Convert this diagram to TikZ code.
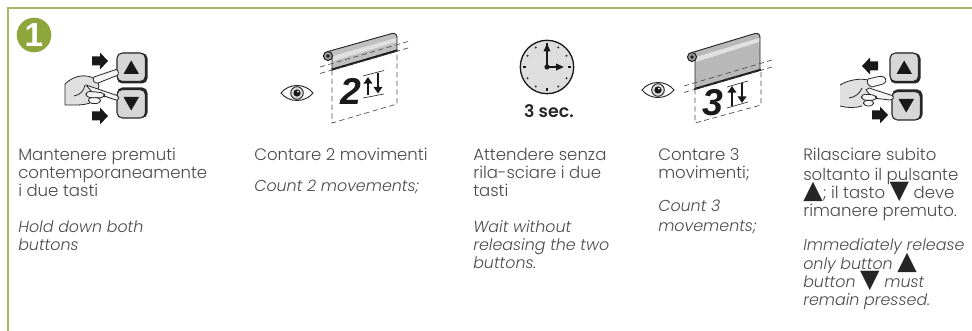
\documentclass[tikz,border=0pt]{standalone}
\usepackage{fontspec}
\setmainfont{Poppins Light}[ItalicFont={Poppins Light Italic},BoldFont={Poppins SemiBold}]
\newfontfamily\symfont{DejaVu Sans}
\newfontfamily\digitfont{Liberation Sans}
\usetikzlibrary{arrows.meta}
\definecolor{framegreen}{HTML}{A9B868}
\definecolor{badgegreen}{HTML}{8FA63C}
\definecolor{inkgrey}{HTML}{4A4A4A}
\newcommand{\uptri}{\smash{\fontsize{19}{13.5}\selectfont\symfont\textcolor{black!85}{▲}}}
\newcommand{\downtri}{\smash{\fontsize{19}{13.5}\selectfont\symfont\textcolor{black!85}{▼}}}
\tikzset{
  para/.style={anchor=north west, inner sep=0pt, align=left, text=inkgrey,
    font=\fontsize{12.4}{13.5}\selectfont},
  parait/.style={para, font=\fontsize{11.9}{13.5}\itshape\selectfont},
  digit/.style={inner sep=0pt, text=black!90, font=\fontsize{28}{28}\digitfont\bfseries\itshape},
  skin/.style={draw=black!85, fill=black!12, line width=0.6pt, line join=round},
  dashline/.style={draw=black!70, line width=0.5pt, dash pattern=on 4pt off 2.5pt},
  pics/keybox/.style={code={
    \fill[black!85, rounded corners=4] (0,0) rectangle (30.5,30.5);
    \draw[black!85, fill=black!16, line width=0.8pt, rounded corners=4] (0,0) rectangle (28.5,28.5);
    \fill[black!90] (6.5,21) -- (14.2,7.5) -- (22,21) -- cycle;
  }},
  pics/blockarrow/.style={code={
    \fill[black!90] (-8,-4.5) -- (0,-4.5) -- (0,-8.5) -- (8,0) -- (0,8.5) -- (0,4.5) -- (-8,4.5) -- cycle;
  }},
  pics/eyeball/.style={code={
    \draw[black!85, fill=white, line width=0.7pt] (-16,0) .. controls (-8,-10) and (8,-10) .. (16,0)
      .. controls (8,10) and (-8,10) .. (-16,0) -- cycle;
    \draw[black!85, fill=black!15, line width=0.7pt] (0,0) circle (6.3);
    \fill[black!90] (0,0) circle (3.6);
    \fill[white] (1,-1.3) circle (1);
  }},
}
\begin{document}
\begin{tikzpicture}[x=0.75pt, y=-0.75pt]
  \useasboundingbox (0,0) rectangle (972,331);
  % Frame and step badge.
  \draw[framegreen, line width=1.1pt] (972,8) -- (8,8) -- (8,331);
  \fill[badgegreen] (34,35) circle (17.3);
  \node[text=white, inner sep=0pt, font=\fontsize{25}{25}\digitfont\bfseries] (badge) at (34,35) {1};

  % First hand on both keys.
  \pic at (117,53) {keybox};
  \pic[yscale=-1] at (117,118) {keybox};
  \pic at (100,61) {blockarrow};
  \pic at (100,116) {blockarrow};
  \draw[skin] (65,105) -- (65,84) .. controls (70,79) and (78,75) .. (86,76)
    .. controls (94,77) and (98,80) .. (99,86) -- (95,100) .. controls (88,106) and (76,105) .. (65,105);
  \draw[skin, fill=black!4] (94,77) -- (116,69.5) .. controls (119,70) and (119,75) .. (117,75.5)
    -- (98,83) .. controls (94,84) and (92,79) .. (94,77) -- cycle;
  \draw[skin, fill=black!4] (86,85) -- (117,95.5) .. controls (120,97) and (118,101) .. (116,100)
    -- (92,92) -- cycle;
  \draw[skin, fill=black!4, rounded corners=3] (86,91) -- (105,93) -- (104,98) -- (86,97.5) -- cycle;
  \draw[skin, fill=black!4, rounded corners=2.5] (88,97.5) -- (101,98) -- (100,103.5) -- (89,103.5) -- cycle;
  \draw[black!85, line width=0.6pt] (74,96) .. controls (80,95) and (84,91) .. (85,85);

  % First blind.
  \pic at (297,93) {eyeball};
  \draw[dashline] (332,70) -- (332,123) -- (397,104) -- (397,51);
  \draw[black!85, fill=black!25, line width=0.7pt, line join=round] (328,51.5) -- (392,33.5)
    .. controls (396,33) and (397,35) .. (397,38) -- (397,50) -- (332,69.5) -- (332,58) -- cycle;
  \fill[black!12] (333,56) -- (396,38) -- (396,42) -- (333,61) -- cycle;
  \draw[black!90, line width=1.5pt] (331.5,69.7) -- (397.5,50.5);
  \draw[black!85, fill=black!40, line width=0.8pt] (328,56) circle (4.5);
  \fill[black!90] (328,56) circle (1.8);
  \draw[dashline] (320,67) -- (408,41.5);
  \draw[dashline] (320,73.5) -- (408,48);
  \node[digit] (counttwo) at (351,91) {2};
  \draw[black!80, line width=0.5pt] (363,76) -- (384,70.5);
  \draw[black!80, line width=0.5pt] (363,98) -- (384,94);
  \draw[black!90, line width=1.3pt, -{Triangle[length=5pt,width=6.5pt]}] (368,95.5) -- (368,77);
  \draw[black!90, line width=1.3pt, -{Triangle[length=5pt,width=6.5pt]}] (378,73) -- (378,93.5);

  % Clock.
  \draw[black!90, fill=black!13, line width=1pt] (547,67) circle (26.7);
  \foreach \tick in {0,90,180,270}
    \fill[black!90] ([shift={(\tick:22.5)}]547,67) ++(-1.4,-1.4) rectangle ++(2.8,2.8);
  \foreach \tick in {30,60,120,150,210,240,300,330}
    \fill[black!80] ([shift={(\tick:22.5)}]547,67) circle (1.1);
  \draw[black!90, line width=1.2pt, -{Triangle[length=6pt,width=5pt]}] (547,67) -- (547,43.5);
  \draw[black!90, line width=1.2pt, -{Triangle[length=6pt,width=5pt]}] (547,67) -- (564,67);
  \fill[black!90] (547,67) circle (2.6);
  \node[inner sep=0pt, text=black!85, font=\fontsize{13}{14}\bfseries\selectfont] (seconds) at (549,111) {3 sec.};

  % Second blind.
  \pic at (658,90) {eyeball};
  \draw[dashline] (695,89) -- (695,123) -- (761,105) -- (761,70);
  \draw[black!85, fill=black!28, line width=0.7pt, line join=round] (692,52.5) -- (755,33.5)
    .. controls (759,33) and (760,35) .. (760,38) -- (760,70) -- (695,89) -- (695,60) -- cycle;
  \fill[black!12] (696,57) -- (759,38) -- (759,42) -- (696,62) -- cycle;
  \draw[black!90, line width=1.5pt] (694.5,89) -- (761,69.7);
  \draw[black!85, fill=black!40, line width=0.8pt] (692,57) circle (4.5);
  \fill[black!90] (692,57) circle (1.8);
  \draw[dashline] (684,86) -- (772,60);
  \draw[dashline] (684,92.5) -- (772,67);
  \node[digit] (countthree) at (713,103) {3};
  \draw[black!80, line width=0.5pt] (727,87) -- (748,81);
  \draw[black!80, line width=0.5pt] (727,108) -- (748,102);
  \draw[black!90, line width=1.3pt, -{Triangle[length=5pt,width=6.5pt]}] (732,106) -- (732,86);
  \draw[black!90, line width=1.3pt, -{Triangle[length=5pt,width=6.5pt]}] (742,83) -- (742,103);

  % Second hand, up key released.
  \pic at (890,53) {keybox};
  \pic[yscale=-1] at (892,120) {keybox};
  \pic[xscale=-1] at (870,66) {blockarrow};
  \pic at (880,115) {blockarrow};
  \draw[skin, draw=none] (840,85) .. controls (848,80) and (860,78) .. (868,80) -- (874,95)
    -- (868,104) .. controls (858,108) and (848,108) .. (840,106) -- cycle;
  \draw[black!85, line width=0.6pt] (840,85) .. controls (848,80) and (860,78) .. (868,80);
  \draw[black!85, line width=0.6pt] (840,106) .. controls (848,108) and (856,108) .. (862,106);
  \draw[skin, fill=black!4] (868,79) .. controls (874,78) and (880,75) .. (884,77)
    .. controls (887,79) and (886,83) .. (883,84) -- (872,87) .. controls (868,86) and (866,82) .. (868,79) -- cycle;
  \draw[skin, fill=black!4] (869,88) -- (892,95.5) .. controls (895,97) and (893,100) .. (890,100)
    -- (873,98) -- (866,90) -- cycle;
  \draw[skin, fill=black!4, rounded corners=3] (861,94) -- (876,95) -- (877,100) -- (862,100.5) -- cycle;
  \draw[skin, fill=black!4, rounded corners=2.5] (863,100.5) -- (874,100.5) -- (873,106) -- (864,106) -- cycle;
  \draw[black!85, line width=0.6pt] (849,98) .. controls (856,97) and (860,93) .. (862,88);

  % Step texts.
  \node[para] (keepit) at (18,148) {Mantenere premuti\\contemporaneamente\\i due tasti};
  \node[parait] (keepen) at (18,220) {Hold down both\\buttons};
  \node[para] (counttwoit) at (254,148) {Contare 2 movimenti};
  \node[parait] (counttwoen) at (254,180) {Count 2 movements;};
  \node[para] (waitit) at (473,148) {Attendere senza\\rila-sciare i due\\tasti};
  \node[parait] (waiten) at (473,220) {Wait without\\releasing the two\\buttons.};
  \node[para] (countthreeit) at (658,148) {Contare 3\\movimenti;};
  \node[parait] (countthreeen) at (658,200) {Count 3\\[1pt]movements;};
  \node[para] (releaseit) at (803,148) {Rilasciare subito\\[1pt]soltanto il pulsante\\\uptri; il tasto \downtri\ deve\\rimanere premuto.};
  \node[parait] (releaseen) at (803,238) {Immediately release\\[1pt]only button \uptri\\button \downtri\ must\\remain pressed.};
\end{tikzpicture}
\end{document}
